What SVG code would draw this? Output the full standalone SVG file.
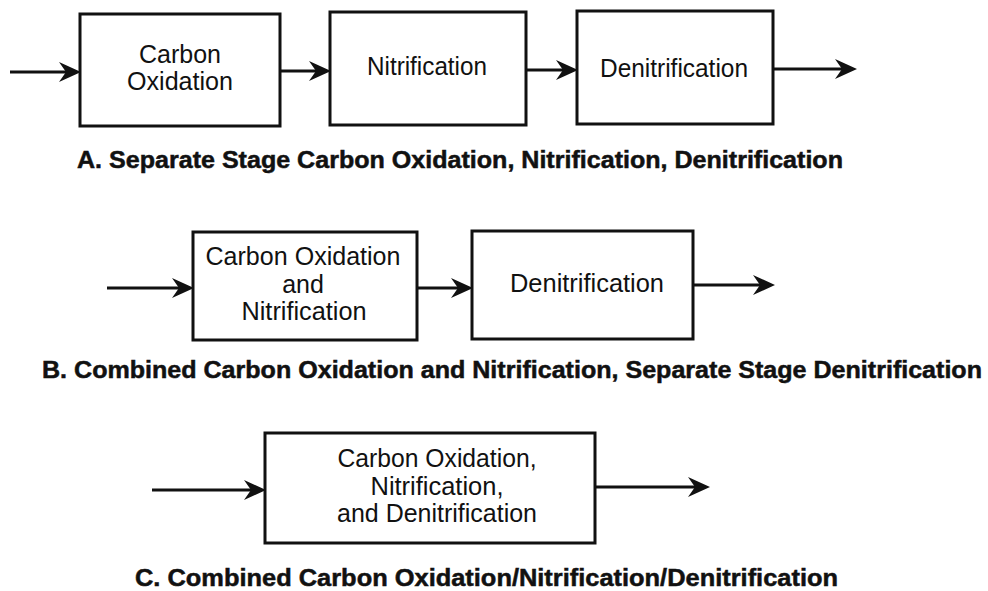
<svg xmlns="http://www.w3.org/2000/svg" width="988" height="591" viewBox="0 0 988 591">
<style>
.box{fill:#fff;stroke:#111;stroke-width:3}
.t{font-family:"Liberation Sans",Arial,Helvetica,sans-serif;font-size:25px;fill:#111;text-anchor:middle}
.cap{font-family:"Liberation Sans",Arial,Helvetica,sans-serif;font-size:23.5px;font-weight:bold;fill:#111;stroke:#111;stroke-width:0.5}
.ln{stroke:#111;stroke-width:3.2;fill:none}
.hd{fill:#111}
</style>
<defs>
<path id="ah" d="M-22,-10 L0,0 L-22,10 L-15,0 Z"/>
</defs>
<rect width="988" height="591" fill="#fff"/>
<g id="connectors">
<line class="ln" x1="10" y1="72" x2="72" y2="72"/><use href="#ah" class="hd" x="81" y="72"/>
<line class="ln" x1="280" y1="71" x2="322" y2="71"/><use href="#ah" class="hd" x="331" y="71"/>
<line class="ln" x1="526" y1="70" x2="569" y2="70"/><use href="#ah" class="hd" x="578" y="70"/>
<line class="ln" x1="773" y1="69" x2="849" y2="69"/><use href="#ah" class="hd" x="857" y="69"/>
<line class="ln" x1="107" y1="288" x2="185" y2="288"/><use href="#ah" class="hd" x="194" y="288"/>
<line class="ln" x1="417" y1="288" x2="464" y2="288"/><use href="#ah" class="hd" x="473" y="288"/>
<line class="ln" x1="693" y1="285" x2="767" y2="285"/><use href="#ah" class="hd" x="775" y="285"/>
<line class="ln" x1="152" y1="490" x2="257" y2="490"/><use href="#ah" class="hd" x="266" y="490"/>
<line class="ln" x1="595" y1="487" x2="702" y2="487"/><use href="#ah" class="hd" x="710" y="487"/>
</g>
<g id="a-carbon">
<rect class="box" x="80" y="14" width="200" height="112"/>
<text class="t" x="180" y="63" textLength="82" lengthAdjust="spacingAndGlyphs">Carbon</text>
<text class="t" x="180" y="90" textLength="106" lengthAdjust="spacingAndGlyphs">Oxidation</text>
</g>
<g id="a-nitrification">
<rect class="box" x="330" y="12" width="196" height="113"/>
<text class="t" x="427" y="75" textLength="120" lengthAdjust="spacingAndGlyphs">Nitrification</text>
</g>
<g id="a-denitrification">
<rect class="box" x="577" y="11" width="196" height="113"/>
<text class="t" x="674" y="77" textLength="148" lengthAdjust="spacingAndGlyphs">Denitrification</text>
</g>
<g id="caption-a">
<text class="cap" x="77" y="168" textLength="766" lengthAdjust="spacingAndGlyphs">A. Separate Stage Carbon Oxidation, Nitrification, Denitrification</text>
</g>
<g id="b-combined">
<rect class="box" x="193" y="232" width="224" height="108"/>
<text class="t" x="303" y="265" textLength="195" lengthAdjust="spacingAndGlyphs">Carbon Oxidation</text>
<text class="t" x="303" y="293">and</text>
<text class="t" x="304" y="320" textLength="125" lengthAdjust="spacingAndGlyphs">Nitrification</text>
</g>
<g id="b-denitrification">
<rect class="box" x="472" y="231" width="221" height="108"/>
<text class="t" x="587" y="292" textLength="154" lengthAdjust="spacingAndGlyphs">Denitrification</text>
</g>
<g id="caption-b">
<text class="cap" x="42" y="378" textLength="940" lengthAdjust="spacingAndGlyphs">B. Combined Carbon Oxidation and Nitrification, Separate Stage Denitrification</text>
</g>
<g id="c-combined">
<rect class="box" x="265" y="433" width="330" height="110"/>
<text class="t" x="437" y="467" textLength="199" lengthAdjust="spacingAndGlyphs">Carbon Oxidation,</text>
<text class="t" x="437" y="495" textLength="133" lengthAdjust="spacingAndGlyphs">Nitrification,</text>
<text class="t" x="437" y="522" textLength="200" lengthAdjust="spacingAndGlyphs">and Denitrification</text>
</g>
<g id="caption-c">
<text class="cap" x="135" y="586" textLength="703" lengthAdjust="spacingAndGlyphs">C. Combined Carbon Oxidation/Nitrification/Denitrification</text>
</g>
</svg>
